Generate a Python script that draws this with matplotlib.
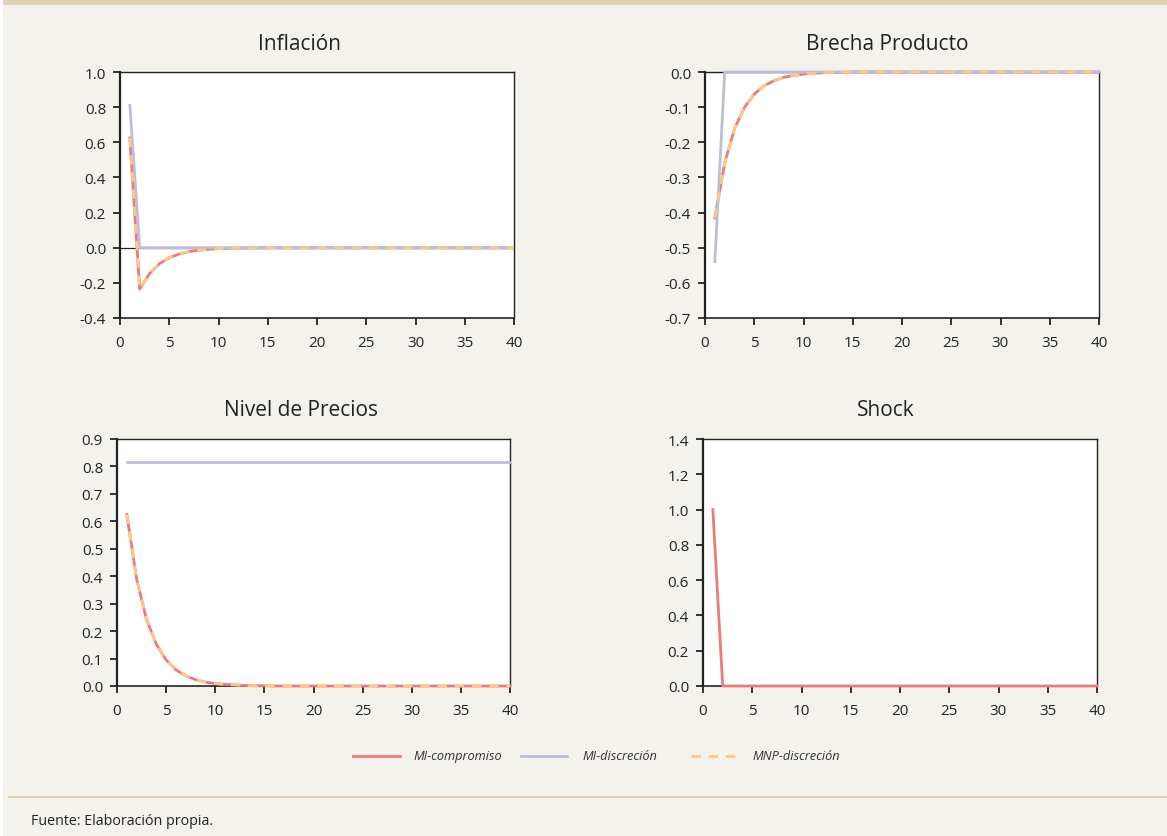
import matplotlib
matplotlib.use("Agg")
import matplotlib.pyplot as plt
from matplotlib.lines import Line2D
from matplotlib.patches import Rectangle

plt.rcParams['font.family'] = ['Open Sans', 'DejaVu Sans']
plt.rcParams['axes.unicode_minus'] = False

# ---------------- data ----------------
periods = list(range(1, 41))

comp_infl = [0.625, -0.235, -0.147, -0.091, -0.057, -0.036, -0.022, -0.014, -0.009, -0.005,
             -0.003, -0.002, -0.001, -0.001, 0.0] + [0.0] * 25
comp_gap = [-0.415, -0.259, -0.161, -0.101, -0.063, -0.039, -0.025, -0.015, -0.010, -0.006,
            -0.004, -0.002, -0.001, -0.001, 0.0] + [0.0] * 25
comp_price = [0.625, 0.390, 0.243, 0.152, 0.095, 0.059, 0.037, 0.023, 0.014, 0.009,
              0.006, 0.004, 0.002, 0.001, 0.001, 0.0] + [0.0] * 24

disc_infl = [0.81] + [0.0] * 39
disc_gap = [-0.54] + [0.0] * 39
disc_price = [0.815] * 40

mnp_infl = list(comp_infl)
mnp_gap = list(comp_gap)
mnp_price = list(comp_price)

shock = [1.0] + [0.0] * 39

titles = ["Inflación", "Brecha Producto", "Nivel de Precios", "Shock"]
series_names = ["MI-compromiso", "MI-discreción", "MNP-discreción"]

# ---------------- style ----------------
W, H = 1167, 837
BG = "#f4f2ed"
TAN = "#dfd3b2"
RED = "#ec7a7b"
BLUE = "#bcbdda"
ORANGE = "#fcc985"
LW = 2.0
DASH = (0, (3.4, 2.8))

fig = plt.figure(figsize=(W / 100, H / 100), dpi=100, facecolor=BG)

fig.patches.append(Rectangle((3 / W, 1 - 6 / H), 1, 6 / H, transform=fig.transFigure,
                             facecolor=TAN, edgecolor="none", zorder=0))
fig.patches.append(Rectangle((0, 0), 3 / W, 1, transform=fig.transFigure,
                             facecolor="white", edgecolor="none", zorder=0))
fig.patches.append(Rectangle((8 / W, 1 - 799 / H), 1, 2.5 / H, transform=fig.transFigure,
                             facecolor=TAN, edgecolor="none", zorder=0))


def make_ax(l, r, t, b):
    return fig.add_axes([l / W, 1 - b / H, (r - l) / W, (b - t) / H])


def style(ax, ylim, yticks, title, title_xpx, title_ypx):
    ax.set_facecolor("white")
    ax.set_xlim(0, 40)
    ax.set_xticks(range(0, 41, 5))
    ax.set_ylim(*ylim)
    ax.set_yticks(yticks)
    ax.set_yticklabels([f"{v:.1f}" for v in yticks])
    for s in ax.spines.values():
        s.set_linewidth(1.0)
        s.set_color("#222222")
        s.set_zorder(1.5)
    ax.spines['left'].set_linewidth(1.6)
    ax.spines['bottom'].set_linewidth(1.2)
    ax.tick_params(axis='both', direction='out', length=5, width=1.3, color="#222222",
                   labelsize=11, labelcolor="#222222")
    ax.tick_params(axis='x', pad=7)
    ax.tick_params(axis='y', pad=5)
    fig.text(title_xpx / W, 1 - title_ypx / H, title, fontsize=15, color="#222222",
             ha="center", va="center")


def yt(a, b, step):
    n = int(round((b - a) / step))
    return [round(a + i * step, 2) for i in range(n + 1)]


# Inflación
ax1 = make_ax(120, 514, 73, 319)
style(ax1, (-0.4, 1.0), yt(-0.4, 1.0, 0.2), titles[0], 300, 44)
ax1.axhline(0, color="#222222", lw=0.9, zorder=1)
ax1.plot(periods, comp_infl, color=RED, lw=LW, zorder=5)
ax1.plot(periods, disc_infl, color=BLUE, lw=LW, zorder=6)
ax1.plot(periods, mnp_infl, color=ORANGE, lw=LW, ls=DASH, zorder=7)

# Brecha Producto
ax2 = make_ax(705, 1099, 73, 319)
style(ax2, (-0.7, 0.0), yt(-0.7, 0.0, 0.1), titles[1], 887, 44)
ax2.plot(periods, comp_gap, color=RED, lw=LW, zorder=5, clip_on=False)
ax2.plot(periods, disc_gap, color=BLUE, lw=LW, zorder=6, clip_on=False)
ax2.plot(periods, mnp_gap, color=ORANGE, lw=LW, ls=DASH, zorder=7, clip_on=False)

# Nivel de Precios
ax3 = make_ax(117, 510, 440, 687)
style(ax3, (0.0, 0.9), yt(0.0, 0.9, 0.1), titles[2], 301, 410)
ax3.plot(periods, comp_price, color=RED, lw=LW, zorder=5, clip_on=False)
ax3.plot(periods, disc_price, color=BLUE, lw=LW, zorder=6, clip_on=False)
ax3.plot(periods, mnp_price, color=ORANGE, lw=LW, ls=DASH, zorder=7, clip_on=False)

# Shock
ax4 = make_ax(703, 1097, 440, 687)
style(ax4, (0.0, 1.4), yt(0.0, 1.4, 0.2), titles[3], 886, 410)
ax4.plot(periods, shock, color=RED, lw=LW, zorder=5, clip_on=False)

# legend (manual placement)
leg_y = 1 - 757 / H
leg_items = [(353, 400, 413, RED, '-'), (521, 567, 582, BLUE, '-'), (691, 738, 752, ORANGE, DASH)]
for (x0, x1, xt, c, ls), name in zip(leg_items, series_names):
    fig.add_artist(Line2D([x0 / W, x1 / W], [leg_y, leg_y], transform=fig.transFigure,
                          color=c, lw=LW, ls=ls))
    fig.text(xt / W, leg_y, name, fontsize=9.2, style='italic', color="#333333",
             ha="left", va="center")

fig.text(31 / W, 1 - 822 / H, "Fuente: Elaboración propia.", fontsize=10.3,
         color="#222222", va="center", ha="left")

fig.savefig("out.png", dpi=100, facecolor=BG)
